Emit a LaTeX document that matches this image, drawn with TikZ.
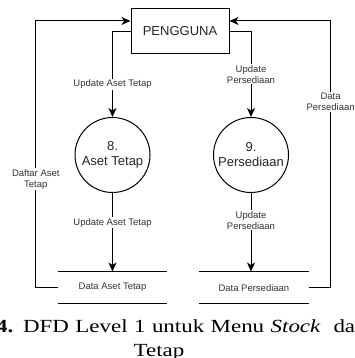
\documentclass[tikz,border=0pt]{standalone}
\usepackage{graphicx}
\usepackage{fontspec}
\setmainfont{Liberation Serif}
\newfontfamily\dfdfont{Liberation Sans}
\usetikzlibrary{positioning,arrows.meta}

\begin{document}
\begin{tikzpicture}
[
x=1pt, y=-1pt,
entity-a/.style={rectangle, draw, line width=1pt, minimum width=98pt, minimum height=45pt, text=black!85, font=\dfdfont\fontsize{13}{15}\selectfont},
proc-a/.style={circle, draw, line width=1pt, minimum size=75pt, inner sep=0pt, align=center, text=black!85, font=\dfdfont\fontsize{13}{15}\selectfont},
store-a/.style={minimum width=109pt, minimum height=32pt, inner sep=0pt, text=black!80, font=\dfdfont\fontsize{9.5}{11}\selectfont},
flow-a/.style={line width=1pt, -{Stealth[length=9pt,width=8pt,inset=2.5pt]}},
text-a/.style={fill=white, inner sep=1pt, align=center, text=black!80, font=\dfdfont\fontsize{9.5}{11}\selectfont},
capt-a/.style={inner sep=0pt, font=\fontsize{18.5}{20}\selectfont}
]
\useasboundingbox (0,0) rectangle (354,358);

\node (pengguna) [entity-a]                          at (180,31.5) {PENGGUNA};
\node (proc-8)   [proc-a]                            at (112.5,155) {8.\\Aset Tetap};
\node (proc-9)   [proc-a, right = 62.5pt of proc-8]  {9.\\Persediaan};
\node (store-1)  [store-a, below = 78.5pt of proc-8] {Data Aset Tetap};
\node (store-2)  [store-a, right = 32pt of store-1]  {Data Persediaan};
\draw [line width=1pt] (store-1.north west)--(store-1.north east) (store-1.south west)--(store-1.south east);
\draw [line width=1pt] (store-2.north west)--(store-2.north east) (store-2.south west)--(store-2.south east);

\draw [flow-a] (pengguna.west) -| node[text-a, pos=0.81] {Update Aset Tetap} (proc-8.north);
\draw [flow-a] (pengguna.east) -| node[text-a, pos=0.75] {Update\\Persediaan} (proc-9.north);
\draw [flow-a] (proc-8.south) -- node[text-a, pos=0.38] {Update Aset Tetap} (store-1.north);
\draw [flow-a] (proc-9.south) -- node[text-a, pos=0.35] {Update\\Persediaan} (proc-9.south |- store-2.north);
\draw [flow-a] (store-1.west) -- ++(-22,0) |- node[text-a, pos=0.203] {Daftar Aset\\Tetap} ([yshift=10.5pt]pengguna.west);
\draw [flow-a] (store-2.east) -- ++(22,0) |- node[text-a, pos=0.348] {Data\\Persediaan} ([yshift=10.5pt]pengguna.east);

\node (capt-1) [capt-a, anchor=base west] at (-4,332) {\scalebox{1.24}[1]{\makebox[289.5pt][s]{\textbf{4.} DFD Level 1 untuk Menu \textit{Stock}\ \ da}}};
\node (capt-2) [capt-a, anchor=base]      at (159,356) {\scalebox{1.24}[1]{Tetap}};

\end{tikzpicture}
\end{document}
